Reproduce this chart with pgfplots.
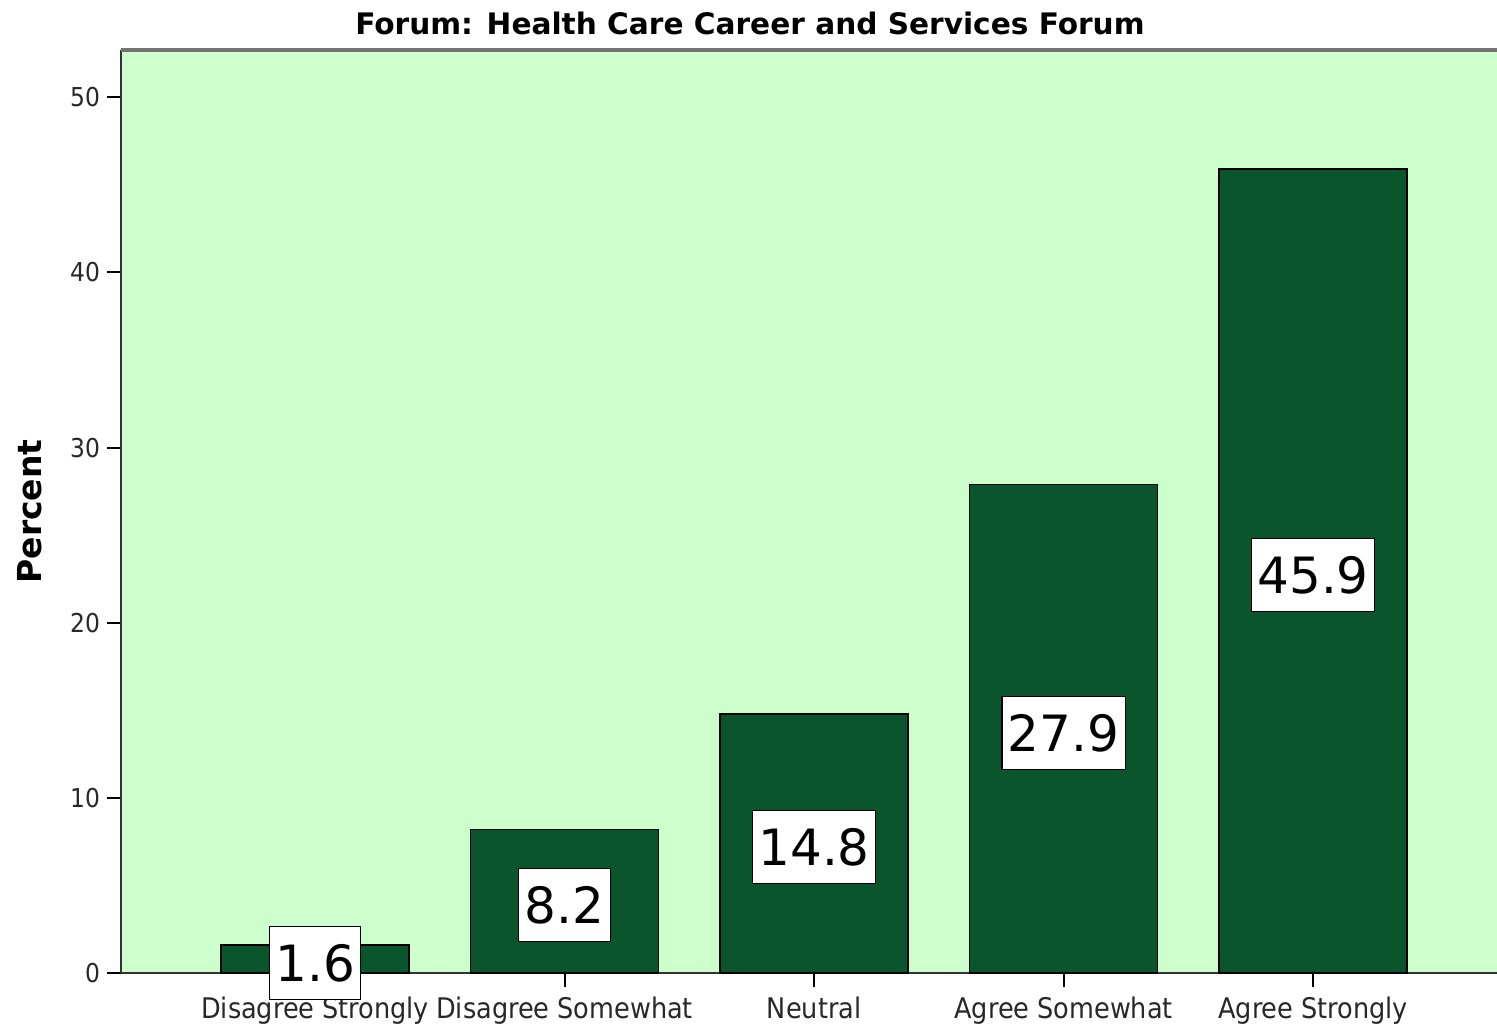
\documentclass[border=0pt]{standalone}
\usepackage{fontspec}
\setmainfont{DejaVu Sans}
\newfontfamily\condfont{DejaVu Sans Condensed}
\usepackage{pgfplots}
\pgfplotsset{compat=1.18}
\usetikzlibrary{calc}
\definecolor{bg}{RGB}{204,255,204}
\definecolor{barfill}{RGB}{11,85,45}
\definecolor{ticktext}{RGB}{40,40,40}

\begin{document}
\begin{tikzpicture}
\begin{axis}[
    scale only axis,
    width=688pt, height=461.5pt,
    ybar, bar width=94pt,
    xmin=-0.778, xmax=4.737,
    ymin=0, ymax=52.7,
    xtick=data,
    xticklabels={Disagree Strongly,Disagree Somewhat,Neutral,Agree Somewhat,Agree Strongly},
    ytick={0,10,20,30,40,50},
    /pgf/number format/assume math mode=true,
    yticklabel style={font=\condfont\fontsize{13}{15}\selectfont, text=ticktext},
    xticklabel style={font=\condfont\fontsize{14.2}{16}\selectfont, text=ticktext, yshift=-1.5pt},
    tick align=outside,
    major tick length=7pt,
    tick style={black, line width=1pt},
    xtick pos=bottom, ytick pos=left,
    axis x line*=bottom, axis y line*=left,
    axis line style={black!80, line width=1.2pt},
    separate axis lines,
    x axis line style={-}, y axis line style={-},
    axis background/.style={fill=bg},
    visualization depends on={rawy/2 \as \halfy},
    nodes near coords,
    nodes near coords style={
        shift={(axis direction cs:0,-\halfy)}, anchor=center, yshift=-2pt,
        font=\fontsize{25}{28}\selectfont, fill=white, draw=black, line width=0.6pt,
        inner xsep=3pt, inner ysep=9pt, text height=18.5pt, text depth=0pt,
        /pgf/number format/fixed, /pgf/number format/precision=1,
        /pgf/number format/fixed zerofill},
    clip=false,
]
\addplot[fill=barfill, draw=black, line width=0.8pt] coordinates {
    (0,1.6) (1,8.2) (2,14.8) (3,27.9) (4,45.9)};
\end{axis}
\draw[black!55, line width=1.6pt] (current axis.north west) -- (current axis.north east);
\node[font=\bfseries\fontsize{14.8}{16}\selectfont, anchor=base]
    at ($(current axis.north west)+(314.5pt,7.5pt)$) {Forum: Health Care Career and Services Forum};
\node[font=\bfseries\fontsize{16.5}{18}\selectfont, rotate=90, anchor=center]
    at ($(current axis.south west)!0.5!(current axis.north west)+(-45.5pt,0)$) {Percent};
\pgfresetboundingbox
\path ($(current axis.south west)+(-60.5pt,-25.5pt)$) rectangle ($(current axis.north east)+(0,25pt)$);
\end{tikzpicture}
\end{document}
